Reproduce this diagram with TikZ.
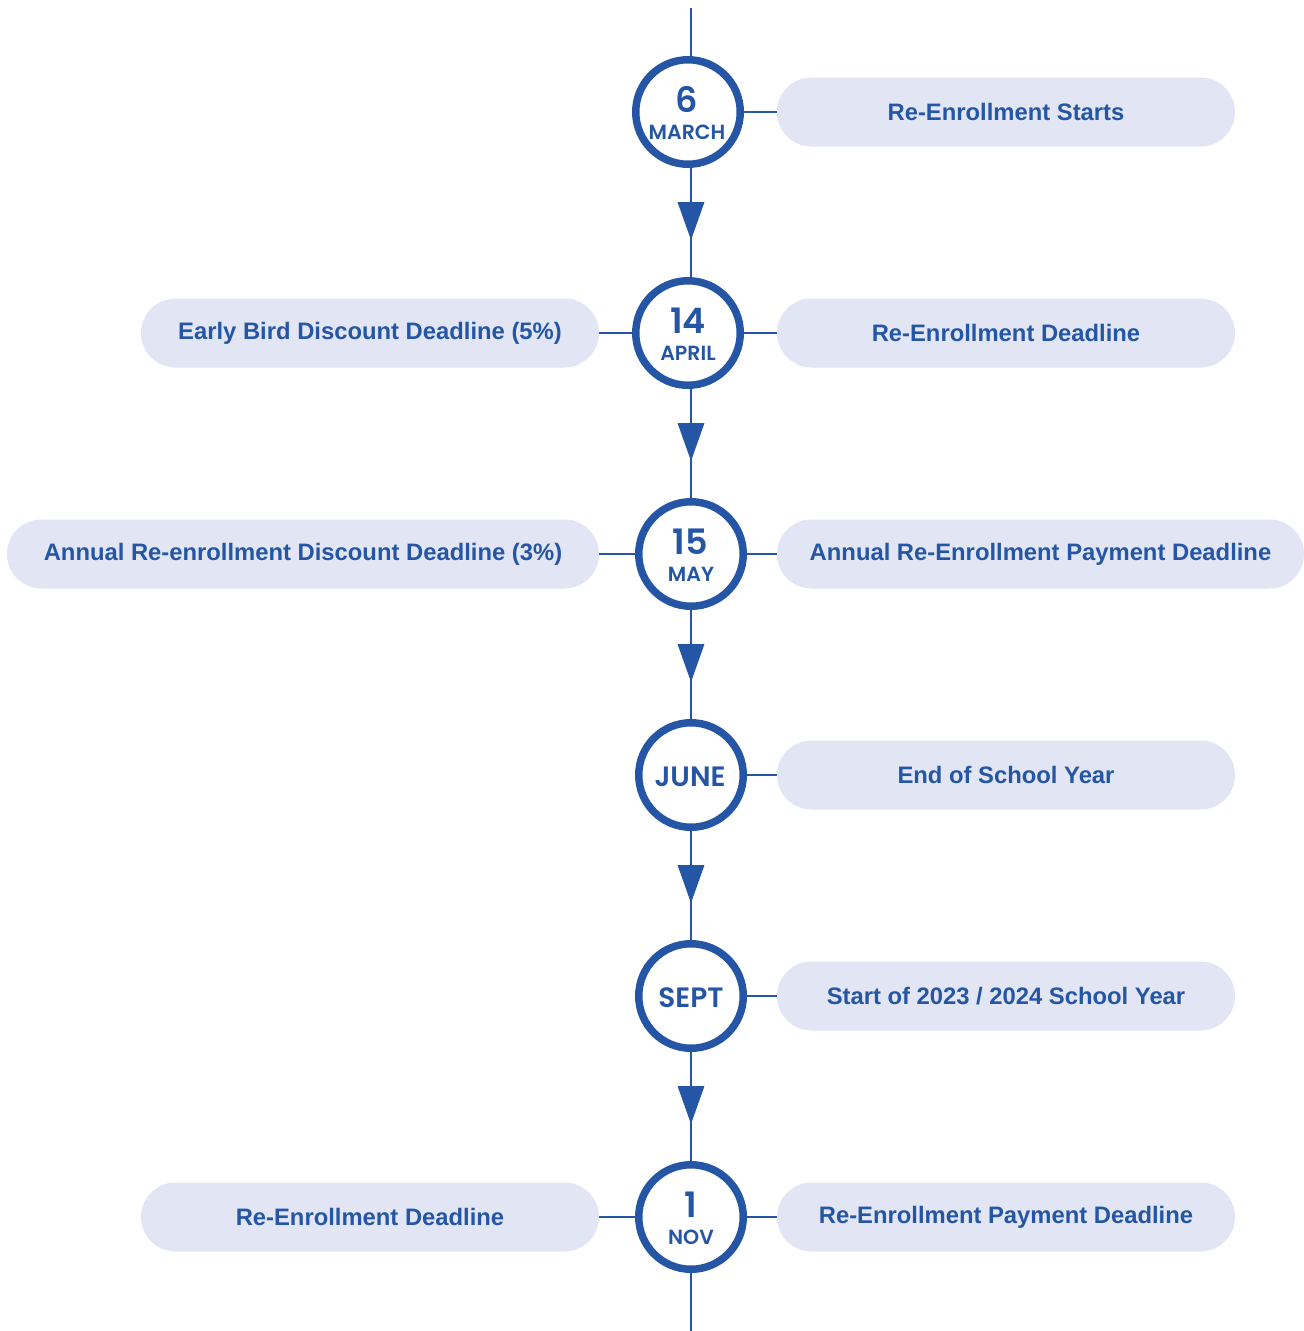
\documentclass[tikz,border=0pt]{standalone}
\usepackage{fontspec}
\setmainfont{Liberation Sans}
\newfontfamily\datefont{Poppins SemiBold}
\usetikzlibrary{backgrounds}
\definecolor{tlblue}{HTML}{2556A5}
\definecolor{pillfill}{HTML}{E1E5F4}
\tikzset{
  pill/.style={draw=none, fill=pillfill, rounded corners=34.5pt, minimum height=69pt,
    inner sep=0pt, text=tlblue, font=\fontsize{23.8}{28}\selectfont\bfseries},
  datecirc/.style={circle, draw=tlblue, line width=7.5pt, fill=white, minimum size=104.5pt, inner sep=0pt},
  numtxt/.style={anchor=base, inner sep=0pt, text=tlblue, font=\datefont\fontsize{35}{40}\selectfont},
  montxt/.style={anchor=base, inner sep=0pt, text=tlblue, font=\datefont\fontsize{20.5}{24}\selectfont},
  bigmon/.style={anchor=base, inner sep=0pt, text=tlblue, font=\datefont\fontsize{28}{32}\selectfont},
  thinline/.style={draw=tlblue, line width=2.6pt},
  arrowhead/.style={fill=tlblue, draw=none}
}
\begin{document}
\begin{tikzpicture}[x=1pt,y=-1pt]
\useasboundingbox (0,0) rectangle (1304,1331);
% circles
\node[datecirc] (c1) at (688,112) {};
\node[datecirc] (c2) at (688,333) {};
\node[datecirc] (c3) at (691,554) {};
\node[datecirc] (c4) at (691,775) {};
\node[datecirc] (c5) at (691,996) {};
\node[datecirc] (c6) at (691,1217) {};
% date texts
\node[numtxt] (n1) at (687,112) {6};
\node[montxt] (m1) at (687,139) {MARCH};
\node[numtxt] (n2) at (688,333) {14};
\node[montxt] (m2) at (688,360) {APRIL};
\node[numtxt] (n3) at (690,554) {15};
\node[montxt] (m3) at (691,581) {MAY};
\node[bigmon] (m4) at (690,786) {JUNE};
\node[bigmon] (m5) at (691,1007) {SEPT};
\node[numtxt] (n6) at (691,1217) {1};
\node[montxt] (m6) at (691,1244) {NOV};
% pills
\node[pill, minimum width=458pt] (r1) at (1006,112) {Re-Enrollment Starts};
\node[pill, minimum width=458pt] (l2) at (370,333) {Early Bird Discount Deadline (5\%)};
\node[pill, minimum width=458pt] (r2) at (1006,333) {Re-Enrollment Deadline};
\node[pill, minimum width=592pt] (l3) at (303,554) {Annual Re-enrollment Discount Deadline (3\%)};
\node[pill, minimum width=527pt] (r3) at (1040.5,554) {Annual Re-Enrollment Payment Deadline};
\node[pill, minimum width=458pt] (r4) at (1006,775) {End of School Year};
\node[pill, minimum width=458pt] (r5) at (1006,996) {Start of 2023 / 2024 School Year};
\node[pill, minimum width=458pt] (l6) at (370,1217) {Re-Enrollment Deadline};
\node[pill, minimum width=458pt] (r6) at (1006,1217) {Re-Enrollment Payment Deadline};
% spine ends and arrow positions
\coordinate (top) at (691,8);
\coordinate (bot) at (691,1331);
\coordinate (a1) at (691,221);
\coordinate (a2) at (691,442);
\coordinate (a3) at (691,663);
\coordinate (a4) at (691,884);
\coordinate (a5) at (691,1105);
\begin{pgfonlayer}{background}
  \draw[thinline] (top) -- (bot);
  \draw[thinline] (c1.center) -- (r1.center);
  \draw[thinline] (l2.center) -- (c2.center) -- (r2.center);
  \draw[thinline] (l3.center) -- (c3.center) -- (r3.center);
  \draw[thinline] (c4.center) -- (r4.center);
  \draw[thinline] (c5.center) -- (r5.center);
  \draw[thinline] (l6.center) -- (c6.center) -- (r6.center);
\end{pgfonlayer}
\foreach \a in {a1,a2,a3,a4,a5}{
  \fill[arrowhead] ([shift={(-13.5,-19)}]\a) -- ([shift={(13.5,-19)}]\a) -- ([shift={(0,19)}]\a) -- cycle;
}
\end{tikzpicture}
\end{document}
